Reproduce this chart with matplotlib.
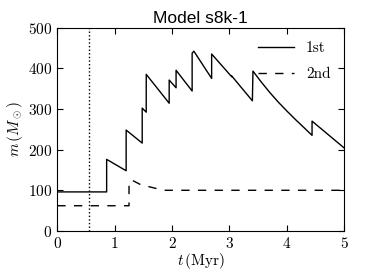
import matplotlib
matplotlib.use("Agg")
import matplotlib.pyplot as plt

plt.rcParams['font.family'] = 'serif'
plt.rcParams['font.serif'] = ['cmr10']
plt.rcParams['mathtext.fontset'] = 'cm'
plt.rcParams['axes.formatter.use_mathtext'] = True
plt.rcParams['axes.unicode_minus'] = False

# primary mass (solid)
t1 = [0.0, 0.86, 0.86, 1.20, 1.20, 1.48, 1.48, 1.55, 1.55, 1.95, 1.95, 2.07, 2.07,
      2.35, 2.35, 2.38, 2.69, 2.69, 3.04, 3.04, 3.40, 3.41, 3.55, 3.70, 3.85, 4.00,
      4.15, 4.30, 4.44, 4.44, 5.0]
m1 = [96, 96, 176, 148, 248, 216, 302, 292, 385, 314, 371, 352, 395,
      344, 437, 442, 375, 435, 379, 381, 320, 393, 367, 341, 317, 295,
      274, 254, 235, 270, 204]

# secondary mass (dashed)
t2 = [0.0, 1.25, 1.25, 1.30, 1.45, 1.85, 5.0]
m2 = [62, 62, 120, 125, 114, 100, 100]

t_dot = 0.55

fig = plt.figure(figsize=(3.82, 2.73), dpi=100)
ax = fig.add_axes([0.150, 0.154, 0.751, 0.745])

ax.plot(t1, m1, color='black', lw=1.0, label='1st')
ax.plot(t2, m2, color='black', lw=1.0, dashes=(6, 6), label='2nd')
ax.axvline(t_dot, color='black', lw=1.0, ls=(0, (1, 1.6)))

ax.set_xlim(0, 5)
ax.set_ylim(0, 500)
ax.set_xticks([0, 1, 2, 3, 4, 5])
ax.set_yticks([0, 100, 200, 300, 400, 500])
ax.tick_params(direction='in', top=True, right=True, labelsize=11, length=4)

ax.set_xlabel(r'$t\,(\mathrm{Myr})$', fontsize=11, labelpad=0)
ax.set_ylabel(r'$m\,(M_\odot)$', fontsize=11, labelpad=2)
ax.set_title('Model s8k-1', fontsize=12.5, family='Liberation Sans', pad=3)

ax.legend(loc='upper right', frameon=False, fontsize=11, handlelength=2.3,
          labelspacing=0.8)

fig.savefig('out.png', dpi=100)
